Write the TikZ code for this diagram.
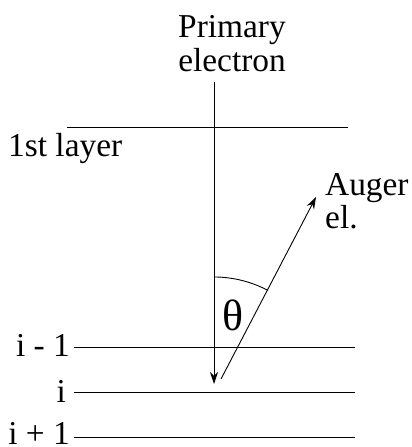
\documentclass[tikz,border=0pt]{standalone}
\usepackage{fontspec}
\setmainfont{Liberation Serif}
\usetikzlibrary{arrows.meta}
\begin{document}
\begin{tikzpicture}[x=1bp,y=1bp,
  lbl/.style={inner sep=0pt,font=\fontsize{33.5}{38}\selectfont},
  layer/.style={line width=0.9bp},
  ray/.style={line width=0.9bp,-{Stealth[length=12bp,width=8bp]}}]
\useasboundingbox (0,0) rectangle (411,447);
% labels
\node[lbl,anchor=base] (prim) at (232,409) {Primary};
\node[lbl,anchor=base] (elec) at (232,375) {electron};
\node[lbl,anchor=base west] (first) at (8,290) {1st layer};
\node[lbl,anchor=base west] (aug) at (325,251) {Auger};
\node[lbl,anchor=base west] (el) at (325,218) {el.};
\node[inner sep=0pt,font=\fontsize{44}{48}\selectfont] (theta) at (233,132) {θ};
\node[lbl,anchor=base east] (im1) at (70,90) {i - 1};
\node[lbl,anchor=base east] (ii) at (66,44) {i};
\node[lbl,anchor=base east] (ip1) at (70,2) {i + 1};
% layer lines
\coordinate (l1a) at (67,320); \coordinate (l1b) at (348,320);
\coordinate (l2a) at (74,100); \coordinate (l2b) at (355,100);
\coordinate (l3a) at (74,55);  \coordinate (l3b) at (355,55);
\coordinate (l4a) at (74,10);  \coordinate (l4b) at (355,10);
\draw[layer] (l1a) -- (l1b);
\draw[layer] (l2a) -- (l2b);
\draw[layer] (l3a) -- (l3b);
\draw[layer] (l4a) -- (l4b);
% primary electron
\coordinate (ptop) at (214,365);
\coordinate (pbot) at (214,63);
\draw[ray] (ptop) -- (pbot);
% Auger electron
\coordinate (astart) at (221,68);
\coordinate (aend) at (316,250);
\draw[ray] (astart) -- (aend);
% angle arc
\coordinate (arcs) at (214,170);
\draw[line width=0.9bp] (arcs) arc[start angle=90,end angle=62,radius=115];
\end{tikzpicture}
\end{document}
